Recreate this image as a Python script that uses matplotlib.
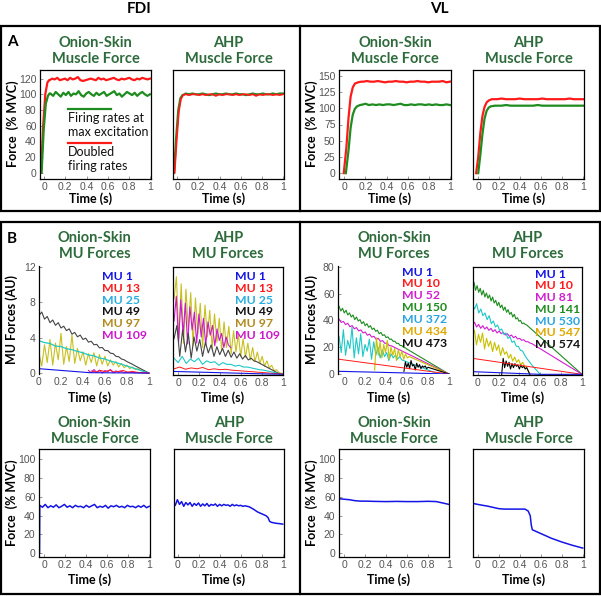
import numpy as np
import matplotlib.pyplot as plt
from matplotlib.patches import Rectangle
from matplotlib.lines import Line2D

W, H = 601, 596
TITLE_GREEN = '#2e6b3c'
TICK_GREY = '#555555'
BOLD_FONT = 'Lato'
TICK_FONT = 'Liberation Sans'

# ---------------- Panel A data (force, % MVC) ----------------
# FDI onion-skin
fdi_os_red_rise_t = [-0.03, -0.01, 0.01, 0.03, 0.045]
fdi_os_red_rise_v = [0, 60, 100, 115, 118]
fdi_os_red_plateau = [118, 120, 119, 121, 118, 119, 120, 118, 121, 119, 120, 122, 118, 117, 118, 119, 120, 119, 118, 121,
                      119, 120, 118, 119, 120, 121, 119, 118, 120, 119, 120, 121, 119, 118, 120, 119, 121, 120, 119, 120]
fdi_os_green_rise_t = [-0.025, -0.005, 0.015, 0.035, 0.05]
fdi_os_green_rise_v = [0, 55, 88, 98, 101]
fdi_os_green_plateau = [101, 98, 103, 100, 97, 102, 99, 103, 98, 101, 100, 104, 99, 97, 101, 103, 100, 98, 102, 99,
                        101, 103, 98, 100, 102, 104, 99, 101, 97, 100, 103, 101, 99, 102, 98, 101, 103, 100, 98, 100]
# FDI AHP
fdi_ahp_green_rise_t = [-0.03, -0.01, 0.01, 0.03, 0.05, 0.07]
fdi_ahp_green_rise_v = [0, 45, 80, 95, 99, 100]
fdi_ahp_green_plateau = [101, 100, 101, 100, 100, 101, 100, 99, 100, 101, 100, 100, 101, 100, 100,
                         101, 100, 100, 99, 100, 101, 100, 100, 101, 100, 100, 101, 100, 101, 101]
fdi_ahp_red_rise_t = [-0.025, -0.005, 0.015, 0.035, 0.055, 0.075]
fdi_ahp_red_rise_v = [0, 42, 78, 94, 99, 100]
fdi_ahp_red_plateau = [100, 99, 100, 100, 99, 100, 99, 100, 100, 98, 100, 99, 100, 100, 99,
                       100, 99, 100, 100, 99, 100, 98, 100, 99, 100, 100, 99, 100, 99, 100]
# VL onion-skin
vl_os_red_rise_t = [-0.005, 0.02, 0.04, 0.06, 0.08, 0.1, 0.13, 0.16]
vl_os_red_rise_v = [0, 40, 85, 118, 132, 138, 140, 141]
vl_os_red_plateau = [141, 142, 141, 141, 142, 141, 140, 141, 141, 142, 141, 141, 140,
                     141, 141, 142, 141, 141, 140, 141, 141, 141, 142, 140, 141]
vl_os_green_rise_t = [0.015, 0.04, 0.06, 0.08, 0.1, 0.12, 0.15, 0.18]
vl_os_green_rise_v = [0, 35, 70, 90, 99, 103, 105, 106]
vl_os_green_plateau = [107, 105, 106, 105, 106, 105, 106, 106, 105, 106, 107, 105, 105,
                       106, 105, 106, 106, 105, 106, 105, 106, 105, 105, 106, 105]
# VL AHP
vl_ahp_red_rise_t = [-0.02, 0.0, 0.02, 0.04, 0.06, 0.08, 0.1, 0.13, 0.16]
vl_ahp_red_rise_v = [0, 25, 62, 88, 102, 109, 112, 114, 114]
vl_ahp_red_plateau = [114, 115, 114, 114, 114, 115, 114, 114, 114, 114,
                      115, 114, 114, 114, 114, 114, 115, 114, 114, 114]
vl_ahp_green_rise_t = [0.0, 0.02, 0.04, 0.06, 0.08, 0.1, 0.12, 0.16]
vl_ahp_green_rise_v = [0, 28, 60, 84, 96, 101, 103, 104]
vl_ahp_green_plateau = [104, 104, 105, 104, 104, 104, 104, 104, 104, 105,
                        104, 104, 104, 104, 104, 104, 104, 104, 104, 104]

# ---------------- Panel B data: MU forces (AU) ----------------
fdi_mu_labels = ['MU 1', 'MU 13', 'MU 25', 'MU 49', 'MU 97', 'MU 109']
fdi_mu_colors = ['#1414e6', '#ff1a1a', '#27aee0', '#111111', '#b38a1e', '#cc19cc']
vl_os_mu_labels = ['MU 1', 'MU 10', 'MU 52', 'MU 150', 'MU 372', 'MU 434', 'MU 473']
vl_ahp_mu_labels = ['MU 1', 'MU 10', 'MU 81', 'MU 141', 'MU 530', 'MU 547', 'MU 574']
vl_mu_colors = ['#1414e6', '#ff1a1a', '#d21ed2', '#1e8c1e', '#2aa5e0', '#e0a800', '#111111']

# FDI onion-skin MU forces
fdi_os_mu1_t = [0, 0.46, 1.0]
fdi_os_mu1_v = [0.5, 0.05, 0]
fdi_os_mu13 = [0.25, 0.1, 0.3, 0.15, 0.35, 0.1, 0.2, 0.3, 0.1, 0.2, 0.1, 0.05]          # 0.48 -> 0.93
fdi_os_mu25 = [3.65, 3.45, 3.35, 3.05, 3.0, 2.75, 2.65, 2.45, 2.3, 2.05, 1.95,
               1.7, 1.6, 1.35, 1.2, 1.0, 0.8, 0.6, 0.4, 0.2, 0.0]                      # 0 -> 1
fdi_os_mu49 = [6.5, 6.9, 6.1, 6.4, 5.7, 6.0, 5.4, 5.7, 5.1, 5.3, 4.8, 5.0, 4.4, 4.6, 4.1, 4.3, 3.8, 3.95, 3.5, 3.6,
               3.2, 3.25, 2.85, 2.9, 2.55, 2.55, 2.25, 2.2, 1.9, 1.85, 1.6, 1.5, 1.3, 1.15, 1.0, 0.82, 0.66, 0.5,
               0.33, 0.17, 0.0]                                                          # 0 -> 1
fdi_os_mu97 = [2.2, 0.8, 3.2, 1.2, 3.8, 0.9, 3.4, 1.5, 4.5, 1.0, 3.0, 1.3, 4.3, 1.1, 2.8, 1.4, 2.4, 0.9, 2.2, 1.2,
               2.3, 0.8, 2.1, 1.0, 1.9, 0.8, 1.5, 0.9, 1.3, 0.7, 1.1, 0.6, 0.9, 0.5, 0.7, 0.4, 0.5, 0.3, 0.25,
               0.1, 0.0]                                                                 # 0 -> 1
fdi_os_mu109 = [0.3, 0.05, 0.4, 0.1, 0.35, 0.0, 0.3, 0.15, 0.4, 0.05, 0.25, 0.1, 0.2, 0.05, 0.1]   # 0.45 -> 0.8

# FDI AHP MU forces
fdi_ahp_mu1_t = [-0.04, 0.9, 1.0]
fdi_ahp_mu1_v = [0.3, 0.0, 0.0]
fdi_ahp_mu13 = [0.6, 0.8, 0.55, 0.7, 0.6, 0.75, 0.5, 0.6, 0.5, 0.55, 0.45, 0.4, 0.35, 0.3, 0.25,
                0.2, 0.15, 0.1, 0.05, 0.0]                                               # -0.04 -> 1
fdi_ahp_mu25 = [1.8, 1.3, 2.0, 1.2, 1.7, 1.4, 1.8, 1.1, 1.5, 1.3, 1.4, 1.0, 1.3, 1.1, 1.1, 0.9, 1.0, 0.8,
                0.8, 0.7, 0.6, 0.5, 0.45, 0.35, 0.25, 0.15, 0.0]                         # -0.04 -> 0.97
fdi_ahp_mu49 = [4.0, 5.5, 2.0, 5.0, 2.5, 4.6, 1.8, 4.2, 2.6, 3.9, 2.0, 3.6, 2.4, 3.3, 2.0, 3.1, 2.2, 2.9,
                2.0, 2.7, 1.9, 2.5, 1.8, 2.3, 1.7, 2.1, 1.6, 1.8, 1.5, 1.4]              # -0.04 -> 0.75
fdi_ahp_mu97 = [8.5, 11.0, 4.0, 10.2, 3.5, 9.6, 5.0, 9.2, 3.2, 8.6, 4.5, 8.0, 3.0, 7.8, 4.2, 7.2, 2.8, 6.8,
                3.6, 6.3, 2.6, 5.9, 3.0, 5.4, 2.3, 4.9, 2.5, 4.5, 2.0, 4.0, 1.9, 3.5, 1.6, 3.0, 1.4, 2.5,
                1.2, 2.0, 0.9, 1.5, 0.7, 1.0, 0.4, 0.5, 0.2]                            # -0.04 -> 0.96
fdi_ahp_mu109 = [6.0, 8.8, 3.6, 8.4, 4.5, 8.0, 3.4, 7.6, 5.0, 7.0, 3.5, 6.8, 4.2, 6.3, 3.3, 5.9, 4.4,
                 5.5, 3.2, 5.1, 3.8, 4.6, 3.0, 4.2, 3.3, 3.0]                           # -0.04 -> 0.5

# VL onion-skin MU forces
vl_os_mu1_t = [-0.05, 1.0]
vl_os_mu1_v = [2, 0]
vl_os_mu10_t = [-0.05, 1.0]
vl_os_mu10_v = [11, 0]
vl_os_mu52 = [41, 38.4, 39.2, 36.8, 37.8, 35.2, 36.1, 33.7, 34.6, 32.1, 32.9, 30.6, 31.3, 28.9, 29.7,
              27.5, 28.1, 25.9, 26.6, 24.3, 24.9, 22.8, 23.2, 21.2, 21.0]               # -0.05 -> 0.45
vl_os_mu150 = [50.5, 47, 49, 45.5, 47.5, 44, 45.5, 42.5, 44, 40.5, 42.5, 39.5, 40.5, 37.5, 39, 36, 37.5,
               34.8, 36, 33.2, 34.2, 31.8, 32.6, 30, 31, 28.7, 29.3, 27.1, 27.7, 25.8, 26.1, 24.3, 24.5,
               22.8, 22.9, 21.3, 21.2, 19.8, 19.5, 18.5]                                 # -0.05 -> 0.6
vl_os_mu372 = [28, 16, 33, 14, 25, 19, 35, 12, 27, 15, 30, 13, 22, 17, 26, 11, 24, 14, 20, 12, 18, 13,
               16, 10, 15, 12, 14, 11, 13, 10.5]                                          # -0.05 -> 0.55
vl_os_mu434 = [3, 27, 14, 24, 12, 22, 16, 25, 11, 20, 14, 19, 10, 18, 13, 17, 11, 15, 12, 13]   # 0.29 -> 0.62
vl_os_mu473 = [2, 9, 5, 8, 4, 10, 6, 7, 3, 8, 5, 7, 4, 6, 5, 6, 4, 5]                   # 0.57 -> 0.8

# VL AHP MU forces
vl_ahp_mu1_t = [-0.05, 0.6, 1.0]
vl_ahp_mu1_v = [2, 0, 0]
vl_ahp_mu10_t = [-0.05, 1.0]
vl_ahp_mu10_v = [12, 0]
vl_ahp_mu81 = [37, 39, 35.5, 37.5, 34.5, 36.5, 34, 35.5, 33, 34.5, 32, 33.5, 31, 32.5, 30.5, 31.5, 29.5,
               30.5, 28.5, 29.5, 27.5, 28.5, 26.5, 27, 25.5, 26, 24.5, 24.5, 23.5, 23]    # -0.05 -> 0.52
vl_ahp_mu141 = [66, 69, 63, 66.5, 61.5, 64.5, 59.5, 63, 58, 61, 57, 59.5, 55, 58, 53.5, 55.5, 51.5, 54,
                50, 52, 48, 50.5, 46.5, 48.5, 45, 46.5, 43, 45, 41.5, 42.5, 39.8, 40.5, 38, 38.5, 37.5, 37]  # -0.05 -> 0.47
vl_ahp_mu530 = [52, 49, 53, 46, 49, 44, 46, 41, 44, 38, 40, 35.5, 37, 33, 34, 30, 31, 27, 28, 24, 25, 21,
                21, 18, 17.5, 14.5, 12, 10, 8, 6]                                         # -0.05 -> 0.53
vl_ahp_mu547 = [28, 33, 22, 30, 24, 31, 19, 27, 21, 25, 17, 24, 18, 22, 14, 20, 15, 17, 12, 15, 10, 13,
                9, 11, 7, 9, 6, 5]                                                        # -0.05 -> 0.47
vl_ahp_mu574 = [0, 12, 5, 10, 6, 9, 4, 8, 5, 8, 6, 7, 4, 7, 5, 6, 4, 5]                   # 0.23 -> 0.47

# ---------------- Panel B data: muscle force (% MVC) ----------------
fdi_os_force = [51, 49, 52, 48.5, 50.5, 49, 51.5, 48.5, 50, 52, 49, 50.5, 48.5, 51, 49.5, 50, 48.5, 51, 49,
                50.5, 52, 48.5, 50, 49, 51, 48, 50.5, 49.5, 51, 49, 50, 48.5, 51, 49.5, 50, 48.5, 50.5, 49,
                51, 48.5, 50]                                                             # -0.04 -> 1
fdi_ahp_force = [55, 51, 57, 52, 55, 50, 54, 51.5, 54, 50, 53, 51, 53.5, 50, 52.5, 50.5, 53, 50, 52, 51,
                 52.5, 50, 52, 50.5, 52, 51, 51.5, 50, 52, 50.5, 51.5, 50.5, 51, 50, 50.5, 50]  # -0.04 -> 0.66
fdi_ahp_force_tail_t = [0.68, 0.72, 0.76, 0.8, 0.84, 0.86, 0.875, 0.89, 0.93, 0.97, 1.0]
fdi_ahp_force_tail_v = [49.5, 47, 44, 42, 40, 38, 34, 33, 32, 31.5, 31]
vl_os_force_t = [-0.05, -0.048, -0.04, 0, 0.05, 0.1, 0.15, 0.2, 0.3, 0.4, 0.5, 0.6, 0.7, 0.8, 0.88,
                 0.92, 0.96, 1.0]
vl_os_force_v = [0, 59, 58, 57.5, 57, 56, 55.5, 55.5, 55.2, 55, 55.2, 55, 55, 55.3, 55, 54, 53, 52]
vl_ahp_force_t = [-0.05, -0.048, -0.045, -0.043, 0.0, 0.1, 0.2, 0.25, 0.45, 0.48, 0.5, 0.51, 0.52,
                  0.6, 0.7, 0.8, 0.9, 1.0]
vl_ahp_force_v = [0, 65, 60, 53, 52, 50, 47.5, 47, 47, 45, 40, 30, 25, 21, 16, 12, 8.5, 5.5]


def join(pre_t, pre_v, t0, t1, vals, post_t=(), post_v=()):
    x = list(pre_t) + list(np.linspace(t0, t1, len(vals))) + list(post_t)
    y = list(pre_v) + list(vals) + list(post_v)
    return x, y


fig = plt.figure(figsize=(W / 100, H / 100), dpi=100)


def px_axes(l, t, r, b):
    return fig.add_axes([l / W, 1 - b / H, (r - l) / W, (b - t) / H])


def ftext(x, y, s, **kw):
    return fig.text(x / W, 1 - y / H, s, **kw)


def style(ax, box=True):
    for s in ax.spines.values():
        s.set_linewidth(0.9)
        s.set_color('black')
    if not box:
        for s in ('top', 'right', 'bottom'):
            ax.spines[s].set_visible(False)
    ax.tick_params(direction='in', length=2.5, width=0.6, color='#888888',
                   labelcolor=TICK_GREY, labelsize=7.5, pad=2.5)
    ax.set_xticks([0, 0.2, 0.4, 0.6, 0.8, 1])
    ax.set_xticklabels(['0', '0.2', '0.4', '0.6', '0.8', '1'], family=TICK_FONT)


def titles(l, r, y, s):
    ftext((l + r) / 2, y, s, ha='center', va='center', family=BOLD_FONT, weight='bold',
          fontsize=10.5, color=TITLE_GREEN, linespacing=1.15)


def xlab(l, r, y):
    ftext((l + r) / 2 - 5, y, 'Time (s)', ha='center', va='center', family=BOLD_FONT,
          weight='bold', fontsize=9)


def ylab(x, y, s):
    ftext(x, y, s, ha='center', va='center', rotation=90, family=BOLD_FONT, weight='bold', fontsize=9)


# panel frames
for (x0, y0, x1, y1) in [(1, 26, 600, 211), (1, 222, 600, 594)]:
    fig.patches.append(Rectangle((x0 / W, 1 - y1 / H), (x1 - x0) / W, (y1 - y0) / H,
                                 transform=fig.transFigure, fill=False, lw=1.6, ec='black'))
    fig.lines.append(Line2D([300 / W, 300 / W], [1 - y1 / H, 1 - y0 / H],
                           transform=fig.transFigure, lw=1.6, color='black'))

ftext(139, 9, 'FDI', ha='center', va='center', family=BOLD_FONT, weight='bold', fontsize=11)
ftext(439, 9, 'VL', ha='center', va='center', family=BOLD_FONT, weight='bold', fontsize=11)
ftext(12, 42, 'A', ha='center', va='center', family=BOLD_FONT, weight='bold', fontsize=11)
ftext(12, 239, 'B', ha='center', va='center', family=BOLD_FONT, weight='bold', fontsize=11)

RED = '#ff1a1a'
GREEN = '#1e8c1e'
BLUE = '#1414e6'

# ---------------- Panel A ----------------
boxes_a = [(40, 70, 151, 179), (173, 70, 284, 179), (339, 70, 451, 179), (473, 70, 584, 179)]
a_series = [
    ((fdi_os_red_rise_t, fdi_os_red_rise_v, 0.05, 1.0, fdi_os_red_plateau),
     (fdi_os_green_rise_t, fdi_os_green_rise_v, 0.06, 1.0, fdi_os_green_plateau)),
    ((fdi_ahp_red_rise_t, fdi_ahp_red_rise_v, 0.08, 1.0, fdi_ahp_red_plateau),
     (fdi_ahp_green_rise_t, fdi_ahp_green_rise_v, 0.08, 1.0, fdi_ahp_green_plateau)),
    ((vl_os_red_rise_t, vl_os_red_rise_v, 0.18, 1.0, vl_os_red_plateau),
     (vl_os_green_rise_t, vl_os_green_rise_v, 0.2, 1.0, vl_os_green_plateau)),
    ((vl_ahp_red_rise_t, vl_ahp_red_rise_v, 0.18, 1.0, vl_ahp_red_plateau),
     (vl_ahp_green_rise_t, vl_ahp_green_rise_v, 0.18, 1.0, vl_ahp_green_plateau)),
]
a_titles = ['Onion-Skin\nMuscle Force', 'AHP\nMuscle Force'] * 2
for i, (box, (red, green)) in enumerate(zip(boxes_a, a_series)):
    ax = px_axes(*box)
    if i == 1:
        ax.plot(*join(*green), color=GREEN, lw=1.6)
        ax.plot(*join(*red), color=RED, lw=1.3)
    else:
        ax.plot(*join(*red), color=RED, lw=1.6)
        ax.plot(*join(*green), color=GREEN, lw=1.6)
    style(ax)
    if i < 2:
        ax.set_ylim(-8, 131)
        ax.set_xlim(-0.04, 1.01)
        ax.set_yticks([0, 20, 40, 60, 80, 100, 120])
    else:
        ax.set_ylim(-9, 159)
        ax.set_xlim(-0.05, 1.01)
        ax.set_yticks([0, 25, 50, 75, 100, 125, 150])
    if i % 2 == 1:
        ax.set_yticks([])
    else:
        for lab in ax.get_yticklabels():
            lab.set_fontfamily(TICK_FONT)
    titles(box[0], box[2], 51, a_titles[i])
    xlab(box[0], box[2], 199)
    if i == 0:
        # hand-drawn legend inside the FDI onion-skin axes
        ax.plot([0.25, 0.64], [0.64, 0.64], transform=ax.transAxes, color=GREEN, lw=1.6)
        ax.text(0.25, 0.615, 'Firing rates at\nmax excitation', transform=ax.transAxes, va='top',
                ha='left', family=BOLD_FONT, fontsize=9, linespacing=1.25, color='#111111')
        ax.plot([0.25, 0.64], [0.33, 0.33], transform=ax.transAxes, color=RED, lw=1.6)
        ax.text(0.25, 0.305, 'Doubled\nfiring rates', transform=ax.transAxes, va='top',
                ha='left', family=BOLD_FONT, fontsize=9, linespacing=1.25, color='#111111')
ylab(13, 124, 'Force  (% MVC)')
ylab(312, 124, 'Force  (% MVC)')

# ---------------- Panel B: MU forces ----------------
boxes_b = [(39, 266, 150, 374), (173, 267, 283, 375), (338, 266, 450, 374), (473, 267, 582, 375)]

# FDI onion-skin
ax = px_axes(*boxes_b[0])
ax.plot(*join([], [], 0.0, 1.0, fdi_os_mu97), color='#c8c020', lw=0.8)
ax.plot(*join([], [], 0.0, 1.0, fdi_os_mu49), color='#444444', lw=0.8)
ax.plot(*join([], [], 0.0, 1.0, fdi_os_mu25), color='#1ec8c8', lw=0.9)
ax.plot(*join([], [], 0.45, 0.8, fdi_os_mu109, [1.0], [0]), color='#cc19cc', lw=0.8)
ax.plot(*join([], [], 0.48, 0.93, fdi_os_mu13, [1.0], [0]), color=RED, lw=0.7)
ax.plot(fdi_os_mu1_t, fdi_os_mu1_v, color=BLUE, lw=0.8)
ax.set_xlim(0, 1.01)
ax.set_ylim(-0.1, 12.1)
style(ax, box=False)
ax.set_yticks([0, 4, 8, 12])
ax.set_yticklabels(['0', '4', '8', '12'], family=TICK_FONT)
ax.tick_params(axis='x', length=0)

# FDI AHP
ax = px_axes(*boxes_b[1])
ax.plot(*join([], [], -0.04, 0.96, fdi_ahp_mu97, [1.0], [0]), color='#c8c020', lw=0.8)
ax.plot(*join([], [], -0.04, 0.5, fdi_ahp_mu109), color='#cc19cc', lw=0.8)
ax.plot(*join([], [], -0.04, 0.75, fdi_ahp_mu49, [0.97], [0]), color='#444444', lw=0.8)
ax.plot(*join([], [], -0.04, 0.97, fdi_ahp_mu25), color='#1ec8c8', lw=0.8)
ax.plot(*join([], [], -0.04, 1.0, fdi_ahp_mu13), color=RED, lw=0.7)
ax.plot(fdi_ahp_mu1_t, fdi_ahp_mu1_v, color=BLUE, lw=0.8)
ax.set_xlim(-0.05, 1.0)
ax.set_ylim(-0.1, 12.1)
style(ax)
ax.set_yticks([])

# VL onion-skin
ax = px_axes(*boxes_b[2])
ax.plot(*join([], [], -0.05, 0.6, vl_os_mu150, [1.0], [0]), color=GREEN, lw=0.8)
ax.plot(*join([], [], -0.05, 0.45, vl_os_mu52, [1.0], [0]), color='#d21ed2', lw=0.8)
ax.plot(*join([], [], -0.05, 0.55, vl_os_mu372, [0.9], [0]), color='#1ec8c8', lw=0.8)
ax.plot(*join([], [], 0.29, 0.62, vl_os_mu434, [1.0], [0]), color='#c8c000', lw=0.8)
ax.plot(*join([], [], 0.57, 0.8, vl_os_mu473, [1.0], [0]), color='black', lw=0.8)
ax.plot(vl_os_mu10_t, vl_os_mu10_v, color=RED, lw=0.7)
ax.plot(vl_os_mu1_t, vl_os_mu1_v, color=BLUE, lw=0.8)
ax.set_xlim(-0.06, 1.01)
ax.set_ylim(0, 80.5)
style(ax, box=False)
ax.set_yticks([0, 20, 40, 60, 80])
ax.set_yticklabels(['0', '20', '40', '60', '80'], family=TICK_FONT)
ax.tick_params(axis='x', length=0)

# VL AHP
ax = px_axes(*boxes_b[3])
ax.plot(*join([], [], -0.05, 0.47, vl_ahp_mu141, [1.0], [0]), color=GREEN, lw=0.8)
ax.plot(*join([], [], -0.05, 0.52, vl_ahp_mu81, [1.0], [0]), color='#d21ed2', lw=0.8)
ax.plot(*join([], [], -0.05, 0.53, vl_ahp_mu530, [0.6], [0]), color='#1ec8c8', lw=0.8)
ax.plot(*join([], [], -0.05, 0.47, vl_ahp_mu547, [0.5], [0]), color='#c8c000', lw=0.8)
ax.plot(*join([], [], 0.23, 0.47, vl_ahp_mu574, [0.5], [0]), color='black', lw=0.8)
ax.plot(vl_ahp_mu10_t, vl_ahp_mu10_v, color=RED, lw=0.7)
ax.plot(vl_ahp_mu1_t, vl_ahp_mu1_v, color=BLUE, lw=0.8)
ax.set_xlim(-0.045, 1.0)
ax.set_ylim(-0.5, 80.5)
style(ax)
ax.set_yticks([])

b_titles = ['Onion-Skin\nMU Forces', 'AHP\nMU Forces'] * 2
for i, box in enumerate(boxes_b):
    titles(box[0], box[2], 246, b_titles[i])
    xlab(box[0], box[2], 398)

legend_specs = [(102, 277, 11.6, fdi_mu_labels, fdi_mu_colors),
                (235, 277, 11.6, fdi_mu_labels, fdi_mu_colors),
                (402, 272, 11.95, vl_os_mu_labels, vl_mu_colors),
                (535, 274, 11.8, vl_ahp_mu_labels, vl_mu_colors)]
for x0, y0, dy, labels, colors in legend_specs:
    for k, (lab, col) in enumerate(zip(labels, colors)):
        ftext(x0, y0 + k * dy, lab, ha='left', va='center', family=BOLD_FONT, weight='bold',
              fontsize=8.8, color=col)
ylab(12, 320, 'MU Forces (AU)')
ylab(312, 320, 'MU Forces (AU)')

# ---------------- Panel B: muscle force ----------------
boxes_c = [(39, 449, 150, 557), (174, 449, 284, 557), (339, 449, 449, 557), (473, 449, 584, 557)]
c_lines = [
    join([-0.045], [0], -0.043, 1.0, fdi_os_force),
    join([-0.045], [0], -0.043, 0.66, fdi_ahp_force, fdi_ahp_force_tail_t, fdi_ahp_force_tail_v),
    (vl_os_force_t, vl_os_force_v),
    (vl_ahp_force_t, vl_ahp_force_v),
]
c_xlims = [(-0.05, 1.007), (-0.035, 1.012), (-0.05, 1.0), (-0.045, 1.012)]
c_titles = ['Onion-Skin\nMuscle Force', 'AHP\nMuscle Force'] * 2
for i, box in enumerate(boxes_c):
    ax = px_axes(*box)
    ax.plot(*c_lines[i], color=BLUE, lw=1.1)
    ax.set_xlim(*c_xlims[i])
    ax.set_ylim(-4, 111)
    style(ax)
    if i % 2 == 0:
        ax.set_yticks([0, 20, 40, 60, 80, 100])
        ax.set_yticklabels(['0', '20', '40', '60', '80', '100'], family=TICK_FONT)
    else:
        ax.set_yticks([])
    titles(box[0], box[2], 431, c_titles[i])
    xlab(box[0], box[2], 580)
ylab(12, 503, 'Force  (% MVC)')
ylab(312, 503, 'Force  (% MVC)')

fig.savefig('out.png', dpi=100)
